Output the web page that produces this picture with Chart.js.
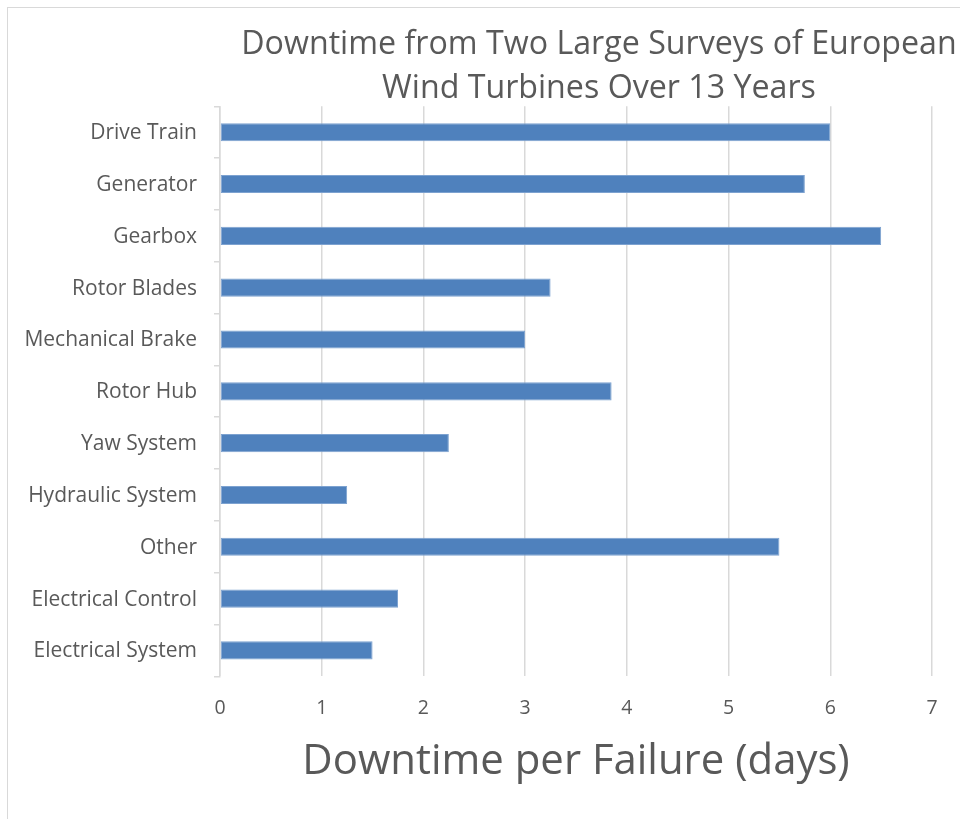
<!DOCTYPE html>
<html>
<head>
<meta charset="utf-8">
<script src="https://cdn.jsdelivr.net/npm/chart.js@4/dist/chart.umd.min.js"></script>
<style>
  html, body { margin: 0; padding: 0; background: #ffffff; overflow: hidden; }
  #frame {
    position: absolute; left: 7px; top: 7px;
    width: 953px; height: 812px;
    border-left: 1px solid #d9d9d9; border-top: 1px solid #d9d9d9;
    background: #ffffff;
  }
  #frame canvas { display: block; }
</style>
</head>
<body>
<div id="frame"><canvas id="chart" width="952" height="811"></canvas></div>
<script>
// Components, listed top to bottom
const categories = [
  'Drive Train', 'Generator', 'Gearbox', 'Rotor Blades', 'Mechanical Brake',
  'Rotor Hub', 'Yaw System', 'Hydraulic System', 'Other',
  'Electrical Control', 'Electrical System'
];
// Mean downtime per failure, days
const downtimeDays = [6.0, 5.75, 6.5, 3.25, 3.0, 3.85, 2.25, 1.25, 5.5, 1.75, 1.5];
const xTicks = [0, 1, 2, 3, 4, 5, 6, 7];
const titleLines = ['Downtime from Two Large Surveys of European', 'Wind Turbines Over 13 Years'];
const xAxisTitle = 'Downtime per Failure (days)';

const FONT = '"Open Sans", Lato, sans-serif';
const TEXT = '#595959';
const GRID = '#d9d9d9';

// Title sits a little right of the plot centre
const titleShift = {
  id: 'titleShift',
  afterLayout(chart) {
    const t = chart.titleBlock;
    if (!t) return;
    const ca = chart.chartArea;
    const half = (t.right - t.left) / 2;
    const cx = (ca.left + ca.right) / 2 + 23;
    t.left = cx - half;
    t.right = cx + half;
  }
};

new Chart(document.getElementById('chart'), {
  type: 'bar',
  data: {
    labels: categories,
    datasets: [{
      data: downtimeDays,
      backgroundColor: '#4f81bd',
      borderColor: '#7da2d0',
      borderWidth: 1,
      borderSkipped: false,
      categoryPercentage: 1,
      barPercentage: 0.35
    }]
  },
  options: {
    indexAxis: 'y',
    responsive: false,
    animation: false,
    layout: { padding: { left: 8, right: 28, top: 0, bottom: 32 } },
    plugins: {
      legend: { display: false },
      tooltip: { enabled: false },
      title: {
        display: true,
        text: titleLines,
        color: TEXT,
        font: { family: FONT, size: 32.2, weight: 'normal', lineHeight: 1.382 },
        padding: { top: 14.3, bottom: -5 }
      }
    },
    scales: {
      x: {
        type: 'linear',
        min: 0,
        max: 7,
        afterBuildTicks(scale) { scale.ticks = xTicks.map(v => ({ value: v })); },
        grid: { color: GRID, lineWidth: 1.5, drawTicks: false },
        border: { display: false },
        ticks: {
          color: TEXT,
          padding: 20,
          font: { family: FONT, size: 19.5 }
        },
        title: {
          display: true,
          text: xAxisTitle,
          color: TEXT,
          font: { family: FONT, size: 41.9, weight: 'normal' },
          padding: { top: -3, bottom: 0 }
        }
      },
      y: {
        grid: { drawOnChartArea: false, drawTicks: true, tickLength: 6, color: GRID, lineWidth: 1.5 },
        border: { display: true, color: GRID, width: 1.5 },
        ticks: {
          color: TEXT,
          padding: 17,
          labelOffset: 1,
          font: { family: FONT, size: 21 }
        },
        afterFit(scale) { scale.width = 204; }
      }
    }
  },
  plugins: [titleShift]
});
</script>
</body>
</html>
